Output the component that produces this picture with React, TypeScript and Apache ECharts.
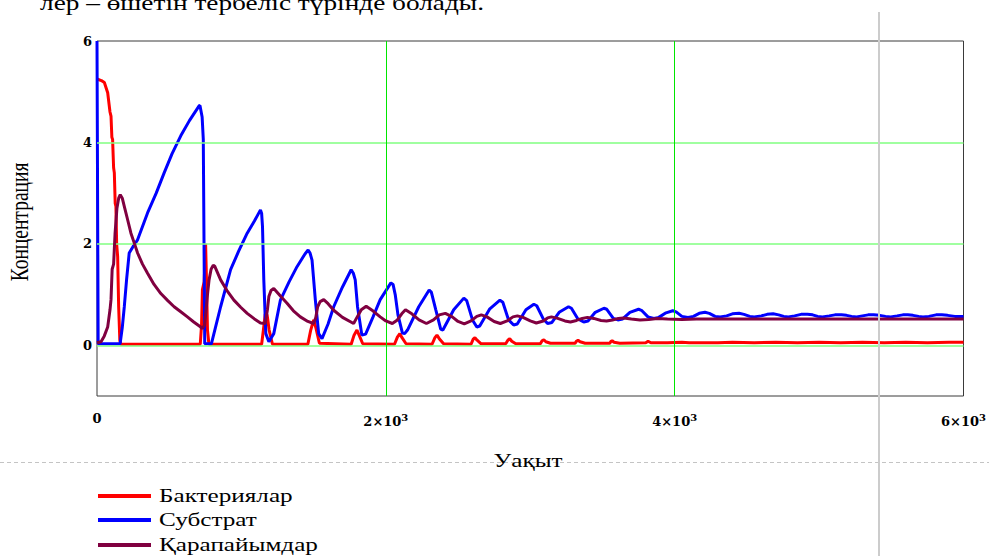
import React, { useEffect, useRef } from "react";
import * as echarts from "echarts";

const seriesNames = ["Бактериялар", "Субстрат", "Қарапайымдар"];
const seriesColors = ["#ff0000", "#0000ff", "#800040"];

const bacteria: [number, number][] = [
  [0, 5.25], [30, 5.22], [51, 5.18], [74, 4.98], [90, 4.6], [97, 4.52], [103, 4.1], [108, 4.06],
  [115, 3.5], [120, 3.4], [126, 2.8], [131, 2.74], [136, 2.0], [143, 1.75], [150, 0.76], [158, 0.1],
  [165, 0.02], [715, 0.02], [724, 0.4], [730, 1.1], [742, 1.25], [752, 2.0], [758, 1.3], [765, 0.3],
  [775, 0.02], [1140, 0.02], [1152, 0.3], [1165, 0.62], [1178, 0.6], [1192, 0.3], [1215, 0.02],
  [1460, 0.02], [1480, 0.3], [1500, 0.5], [1515, 0.35], [1540, 0.04], [1760, 0.02], [1780, 0.2],
  [1800, 0.3], [1815, 0.2], [1840, 0.03], [2060, 0.02], [2080, 0.16], [2097, 0.23], [2112, 0.15],
  [2140, 0.03], [2320, 0.02], [2340, 0.15], [2354, 0.2], [2370, 0.13], [2400, 0.03], [2590, 0.02],
  [2605, 0.12], [2617, 0.15], [2632, 0.1], [2660, 0.03], [2830, 0.03], [2845, 0.1], [2858, 0.13],
  [2872, 0.08], [2900, 0.03], [3070, 0.03], [3082, 0.09], [3094, 0.11], [3108, 0.07], [3140, 0.04],
  [3310, 0.04], [3320, 0.08], [3331, 0.1], [3345, 0.07], [3380, 0.04], [3550, 0.04], [3560, 0.08],
  [3567, 0.09], [3580, 0.06], [3620, 0.04], [3800, 0.05], [3816, 0.08], [3835, 0.05], [3950, 0.05],
  [4050, 0.06], [4100, 0.05], [4300, 0.05], [4400, 0.06], [4550, 0.05], [4700, 0.06], [4850, 0.05],
  [5000, 0.06], [5150, 0.05], [5300, 0.06], [5450, 0.05], [5600, 0.06], [5750, 0.05], [5900, 0.06],
  [6000, 0.06],
];

const substrate: [number, number][] = [
  [0, 6], [8, 0.03], [160, 0.03], [175, 0.35], [189, 0.76], [205, 1.3], [223, 1.82], [250, 1.95],
  [281, 2.08], [350, 2.61], [410, 3.0], [465, 3.4], [520, 3.78], [580, 4.13], [640, 4.43],
  [707, 4.72], [713, 4.73], [728, 4.5], [736, 4.06], [746, 0.03], [792, 0.03], [820, 0.35],
  [856, 0.76], [925, 1.49], [980, 1.85], [1040, 2.21], [1090, 2.45], [1132, 2.67], [1140, 2.6],
  [1146, 2.34], [1155, 1.29], [1169, 0.23], [1190, 0.07], [1224, 0.23], [1270, 0.89], [1330, 1.25],
  [1385, 1.55], [1440, 1.8], [1462, 1.88], [1475, 1.82], [1489, 1.68], [1512, 0.89], [1535, 0.23],
  [1558, 0.13], [1600, 0.42], [1639, 0.76], [1700, 1.15], [1760, 1.49], [1775, 1.42], [1788, 1.29],
  [1804, 0.76], [1834, 0.2], [1860, 0.22], [1910, 0.55], [1961, 0.9], [2035, 1.23], [2050, 1.2],
  [2065, 1.0], [2084, 0.6], [2115, 0.24], [2130, 0.23], [2150, 0.3], [2228, 0.76], [2300, 1.09],
  [2315, 1.05], [2346, 0.7], [2380, 0.32], [2395, 0.3], [2470, 0.7], [2540, 0.93], [2560, 0.88],
  [2600, 0.5], [2630, 0.36], [2650, 0.38], [2720, 0.72], [2790, 0.89], [2810, 0.85], [2850, 0.5],
  [2885, 0.4], [2910, 0.42], [2970, 0.7], [3025, 0.81], [3045, 0.78], [3090, 0.52], [3120, 0.43],
  [3150, 0.45], [3200, 0.65], [3265, 0.76], [3285, 0.73], [3330, 0.52], [3370, 0.46], [3400, 0.48],
  [3450, 0.65], [3510, 0.73], [3530, 0.71], [3575, 0.53], [3606, 0.5], [3640, 0.52], [3690, 0.65],
  [3750, 0.71], [3770, 0.69], [3815, 0.56], [3856, 0.53], [3890, 0.55], [3940, 0.64], [3987, 0.68],
  [4010, 0.66], [4050, 0.57], [4092, 0.55], [4130, 0.57], [4170, 0.63], [4210, 0.65], [4240, 0.63],
  [4280, 0.57], [4315, 0.56], [4360, 0.58], [4400, 0.62], [4446, 0.63], [4480, 0.61], [4520, 0.57],
  [4551, 0.56], [4600, 0.58], [4640, 0.61], [4682, 0.62], [4720, 0.6], [4755, 0.57], [4787, 0.56],
  [4830, 0.58], [4875, 0.61], [4919, 0.61], [4955, 0.6], [4990, 0.57], [5024, 0.56], [5070, 0.58],
  [5110, 0.6], [5155, 0.6], [5190, 0.59], [5225, 0.57], [5260, 0.56], [5300, 0.58], [5340, 0.6],
  [5378, 0.6], [5420, 0.59], [5460, 0.57], [5496, 0.56], [5540, 0.58], [5580, 0.6], [5614, 0.6],
  [5650, 0.59], [5690, 0.57], [5719, 0.56], [5760, 0.57], [5810, 0.6], [5850, 0.6], [5890, 0.59],
  [5940, 0.57], [6000, 0.57],
];

const protozoa: [number, number][] = [
  [0, 0.05], [28, 0.07], [50, 0.18], [74, 0.36], [90, 0.7], [97, 0.9], [105, 1.5], [115, 1.6],
  [125, 2.2], [138, 2.7], [150, 2.9], [161, 2.97], [175, 2.9], [189, 2.74], [210, 2.5], [235, 2.21],
  [260, 2.0], [281, 1.82], [315, 1.6], [350, 1.42], [395, 1.2], [442, 1.02], [490, 0.88], [534, 0.76],
  [580, 0.66], [626, 0.56], [670, 0.46], [718, 0.36], [730, 0.33], [745, 0.4], [753, 0.63],
  [765, 1.0], [776, 1.29], [790, 1.5], [805, 1.58], [815, 1.56], [856, 1.29], [900, 1.08],
  [948, 0.89], [995, 0.75], [1040, 0.63], [1090, 0.52], [1132, 0.44], [1165, 0.43], [1180, 0.7],
  [1190, 0.96], [1205, 1.08], [1224, 1.12], [1270, 0.97], [1316, 0.83], [1360, 0.68], [1408, 0.56],
  [1460, 0.47], [1500, 0.43], [1515, 0.55], [1528, 0.76], [1545, 0.86], [1570, 0.9], [1600, 0.82],
  [1639, 0.69], [1700, 0.55], [1777, 0.43], [1800, 0.55], [1830, 0.7], [1864, 0.77], [1910, 0.68],
  [1961, 0.56], [2000, 0.48], [2045, 0.43], [2080, 0.5], [2110, 0.62], [2136, 0.7], [2180, 0.62],
  [2230, 0.5], [2281, 0.43], [2330, 0.5], [2370, 0.6], [2412, 0.63], [2460, 0.56], [2500, 0.47],
  [2543, 0.42], [2590, 0.48], [2630, 0.57], [2661, 0.6], [2700, 0.56], [2750, 0.47], [2793, 0.43],
  [2840, 0.48], [2880, 0.56], [2911, 0.58], [2950, 0.55], [3000, 0.48], [3042, 0.44], [3090, 0.48],
  [3120, 0.54], [3147, 0.56], [3190, 0.53], [3240, 0.48], [3278, 0.46], [3320, 0.49], [3360, 0.53],
  [3396, 0.55], [3440, 0.53], [3490, 0.49], [3528, 0.48], [3570, 0.5], [3610, 0.53], [3646, 0.54],
  [3700, 0.52], [3760, 0.5], [3820, 0.51], [3880, 0.53], [3950, 0.52], [4050, 0.51], [4150, 0.52],
  [4300, 0.52], [4500, 0.52], [4800, 0.52], [5200, 0.52], [5600, 0.52], [6000, 0.52],
];

const xTickValues = [0, 2000, 4000, 6000];
const yTickValues = [0, 2, 4, 6];
const hGridValues = [0, 2, 4];
const vGridValues = [2000, 4000];

const yAxisTitle = "Концентрация";
const xAxisTitle = "Уақыт";
const topText = "лер – өшетін тербеліс түрінде болады.";

const SERIF = "'Liberation Serif', 'Times New Roman', serif";
const WIDE_SERIF = "'DejaVu Serif', serif";
const STRETCH = 1.4;

export default function App() {
  const ref = useRef<HTMLDivElement>(null);

  useEffect(() => {
    document.body.style.margin = "0";
    const chart = echarts.init(ref.current!, null, { renderer: "svg" });
    const seriesData = [bacteria, substrate, protozoa];

    const legendY = [496, 520, 545];
    const legendGraphics: any[] = [];
    seriesNames.forEach((name, i) => {
      legendGraphics.push({
        type: "line",
        shape: { x1: 98, y1: legendY[i], x2: 151, y2: legendY[i] },
        style: { stroke: seriesColors[i], lineWidth: 4 },
      });
      legendGraphics.push({
        type: "text",
        x: 159,
        y: legendY[i],
        scaleX: STRETCH,
        style: {
          text: name,
          fontFamily: SERIF,
          fontSize: 18,
          fill: "#000",
          textAlign: "left",
          textVerticalAlign: "middle",
        },
      });
    });

    const option: any = {
      animation: false,
      backgroundColor: "#ffffff",
      grid: {
        left: 97,
        top: 41,
        width: 871,
        height: 355,
        show: true,
        borderColor: "#3a3a3a",
        borderWidth: 1,
        backgroundColor: "transparent",
      },
      xAxis: {
        type: "value",
        min: 0,
        max: 6000,
        interval: 2000,
        axisLine: { show: false },
        axisTick: { show: false },
        splitLine: { show: false },
        axisLabel: {
          margin: 16,
          color: "#000",
          fontFamily: WIDE_SERIF,
          fontWeight: "bold",
          fontSize: 13,
          formatter: (v: number) =>
            xTickValues.includes(v)
              ? v === 0
                ? "{b|0}"
                : `{b|${v / 1000}×10}{s|3}`
              : "",
          rich: {
            b: { fontFamily: WIDE_SERIF, fontWeight: "bold", fontSize: 13, color: "#000" },
            s: { fontFamily: WIDE_SERIF, fontWeight: "bold", fontSize: 10, color: "#000", padding: [0, 0, 9, 0] },
          },
        },
      },
      yAxis: {
        type: "value",
        min: -1,
        max: 6,
        interval: 1,
        axisLine: { show: false },
        axisTick: { show: false },
        splitLine: { show: false },
        axisLabel: {
          margin: 5,
          color: "#000",
          fontFamily: WIDE_SERIF,
          fontWeight: "bold",
          fontSize: 13,
          formatter: (v: number) => (yTickValues.includes(v) ? String(v) : ""),
        },
      },
      series: [
        {
          type: "line",
          data: [],
          silent: true,
          z: 1,
          markLine: {
            symbol: ["none", "none"],
            silent: true,
            animation: false,
            label: { show: false },
            lineStyle: { color: "#80ff80", width: 1.5, type: "solid" },
            data: hGridValues.map((v) => ({ yAxis: v })),
          },
        },
        {
          type: "line",
          data: [],
          silent: true,
          z: 1,
          markLine: {
            symbol: ["none", "none"],
            silent: true,
            animation: false,
            label: { show: false },
            lineStyle: { color: "#00e600", width: 1, type: "solid" },
            data: vGridValues.map((v) => ({ xAxis: v })),
          },
        },
        ...seriesNames.map((name, i) => ({
          name,
          type: "line",
          data: seriesData[i],
          showSymbol: false,
          symbol: "none",
          color: seriesColors[i],
          lineStyle: { width: 3, color: seriesColors[i] },
          z: 3 + i,
        })),
      ],
      graphic: [
        {
          type: "text",
          x: 484,
          y: 13,
          scaleX: 1.3,
          style: {
            text: topText,
            fontFamily: SERIF,
            fontSize: 21,
            fill: "#000",
            textAlign: "right",
            textVerticalAlign: "bottom",
          },
        },
        {
          type: "text",
          x: 20,
          y: 222,
          rotation: Math.PI / 2,
          scaleY: 1.3,
          style: {
            text: yAxisTitle,
            fontFamily: SERIF,
            fontSize: 19.5,
            fill: "#000",
            textAlign: "center",
            textVerticalAlign: "middle",
          },
        },
        {
          type: "line",
          shape: { x1: 0, y1: 462.5, x2: 989, y2: 462.5 },
          style: { stroke: "#c4c4c4", lineWidth: 1, lineDash: [4, 3] },
          z: 1,
        },
        {
          type: "text",
          x: 528,
          y: 461,
          scaleX: STRETCH,
          style: {
            text: xAxisTitle,
            fontFamily: SERIF,
            fontSize: 18,
            fill: "#000",
            textAlign: "center",
            textVerticalAlign: "middle",
          },
          z: 2,
        },
        ...legendGraphics,
        {
          type: "line",
          shape: { x1: 879, y1: 12, x2: 879, y2: 556 },
          style: { stroke: "#cccccc", lineWidth: 2 },
          z: 100,
        },
      ],
    };

    chart.setOption(option);
    return () => chart.dispose();
  }, []);

  return (
    <div
      ref={ref}
      style={{ position: "absolute", left: 0, top: 0, width: 989, height: 556 }}
    />
  );
}
